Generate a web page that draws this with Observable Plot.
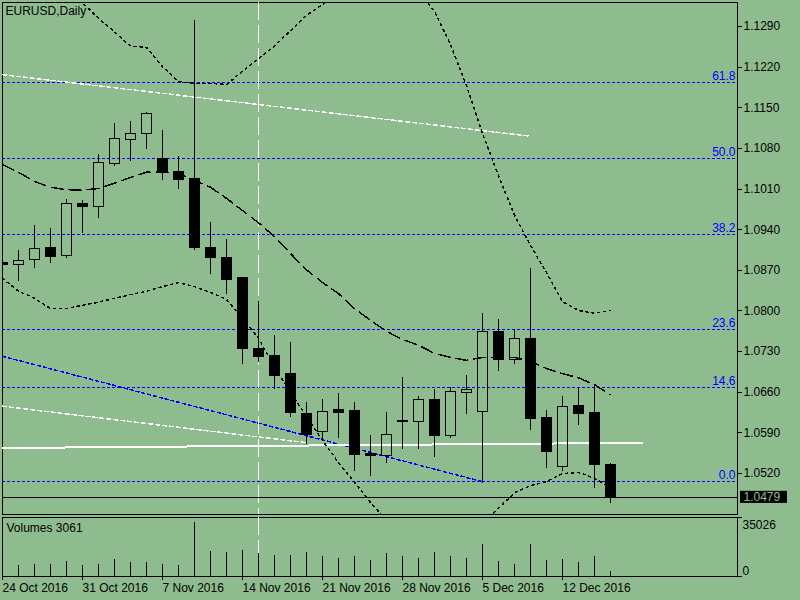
<!DOCTYPE html>
<html><head><meta charset="utf-8">
<script src="https://cdn.jsdelivr.net/npm/d3@7"></script>
<script src="https://cdn.jsdelivr.net/npm/@observablehq/plot@0.6"></script>
<style>
html,body{margin:0;padding:0;background:#8fbc8f;}
#chart svg{display:block;}
</style></head><body><div id="chart"></div>
<script>
const symbolTitle = "EURUSD,Daily";
const volumeTitle = "Volumes 3061";
// daily candles, index 0 = 24 Oct 2016 ... 38 = 15 Dec 2016
const open  = [1.0883,1.0880,1.0888,1.0909,1.0894,1.0985,1.0979,1.1054,1.1095,1.1105,1.1061,1.1040,1.1027,1.0909,1.0892,1.0857,1.0735,1.0723,1.0691,1.0623,1.0592,1.0629,1.0627,1.0553,1.0550,1.0611,1.0609,1.0646,1.0584,1.0659,1.0626,1.0763,1.0716,1.0751,1.0615,1.0531,1.0636,1.0625,1.0534];
const high  = [1.0895,1.0904,1.0947,1.0942,1.0992,1.0990,1.1070,1.1123,1.1126,1.1142,1.1111,1.1066,1.1300,1.0952,1.0923,1.0858,1.0816,1.0758,1.0746,1.0642,1.0648,1.0658,1.0642,1.0586,1.0625,1.0686,1.0652,1.0665,1.0669,1.0689,1.0796,1.0785,1.0768,1.0874,1.0629,1.0652,1.0667,1.0670,1.0538];
const low   = [1.0868,1.0850,1.0874,1.0881,1.0891,1.0934,1.0959,1.1049,1.1058,1.1078,1.1025,1.1009,1.0905,1.0863,1.0829,1.0707,1.0711,1.0664,1.0617,1.0570,1.0578,1.0581,1.0524,1.0515,1.0537,1.0561,1.0561,1.0548,1.0581,1.0622,1.0503,1.0696,1.0708,1.0595,1.0529,1.0524,1.0602,1.0495,1.0468];
const close = [1.0879,1.0886,1.0907,1.0893,1.0985,1.0979,1.1055,1.1097,1.1105,1.1140,1.1039,1.1026,1.0908,1.0891,1.0853,1.0734,1.0720,1.0688,1.0624,1.0586,1.0626,1.0624,1.0552,1.0550,1.0586,1.0608,1.0647,1.0584,1.0661,1.0664,1.0763,1.0715,1.0752,1.0614,1.0557,1.0634,1.0622,1.0534,1.0479];
const volume = [7000,7135,7783,7783,9729,7135,7783,11026,9080,9080,7783,7135,35026,16215,15566,16864,14918,13621,13621,15566,12972,11675,12972,10378,14918,12972,11675,15566,12972,11675,20755,9729,7783,20755,10378,11026,9080,12972,3061];
// indicator lines read at each bar
const midLine   = [1.1052,1.1039,1.1023,1.1013,1.1009,1.1008,1.1011,1.1020,1.1030,1.1039,1.1039,1.1037,1.1025,1.1013,1.0994,1.0973,1.0952,1.0928,1.0899,1.0871,1.0849,1.0830,1.0804,1.0784,1.0765,1.0751,1.0741,1.0727,1.0720,1.0715,1.0720,1.0720,1.0720,1.0713,1.0701,1.0692,1.0685,1.0673,1.0656];
const upperBand = [1.1430,1.1421,1.1404,1.1380,1.1357,1.1331,1.1304,1.1281,1.1256,1.1254,1.1221,1.1195,1.1192,1.1192,1.1190,1.1213,1.1235,1.1256,1.1283,1.1309,1.1328,1.1349,1.1366,1.1378,1.1383,1.1378,1.1352,1.1316,1.1259,1.1188,1.1106,1.1033,1.0965,1.0913,1.0866,1.0816,1.0801,1.0796,1.0801];
const lowerBand = [1.0856,1.0834,1.0822,1.0804,1.0804,1.0810,1.0815,1.0822,1.0828,1.0834,1.0842,1.0849,1.0842,1.0832,1.0820,1.0787,1.0753,1.0703,1.0660,1.0618,1.0577,1.0539,1.0505,1.0470,1.0439,1.0413,1.0396,1.0391,1.0391,1.0408,1.0436,1.0460,1.0487,1.0499,1.0506,1.0520,1.0522,1.0512,1.0496];
// Fibonacci levels
const fibLabels = ["0.0","14.6","23.6","38.2","50.0","61.8"];
const fibPrices = [1.0506,1.0668,1.0768,1.0931,1.1062,1.1193];
// drawn trend lines: [barIndex, price]
const whiteUpperLine = [[0,1.1207],[33,1.1101]];
const whiteLowerLine = [[0,1.0636],[19.06,1.0573]];
const blueTrendLine  = [[0,1.0722],[30,1.0506]];
const whiteSolidLine = [[0,1.0564],[40,1.0573]];
const verticalLineBar = 16;
// axes
const priceTicks = [1.1290,1.1220,1.1150,1.1080,1.1010,1.0940,1.0870,1.0800,1.0730,1.0660,1.0590,1.0520];
const dateTickBars = [0,5,10,15,20,25,30,35];
const dateTickLabels = ["24 Oct 2016","31 Oct 2016","7 Nov 2016","14 Nov 2016","21 Nov 2016","28 Nov 2016","5 Dec 2016","12 Dec 2016"];

const BG = "#8fbc8f";
const crisp = {shapeRendering: "crispEdges"};
const candles = open.map((o, i) => ({
  i, o, h: high[i], l: low[i], c: close[i],
  top: Math.max(o, close[i]), bot: Math.min(o, close[i]), bull: close[i] >= o
}));
const lastClose = close[close.length - 1];
const xDomain = [0, 45.9375];
const style = {fontFamily: "'Liberation Sans', Arial, sans-serif", fontSize: "12px", background: BG, color: "black", overflow: "visible"};

const main = Plot.plot({
  width: 800, height: 516,
  marginTop: 2, marginBottom: 2, marginLeft: 2, marginRight: 63,
  x: {domain: xDomain, axis: null},
  y: {domain: [1.04495, 1.13313]},
  style,
  marks: [
    Plot.frame({stroke: "black", ...crisp}),
    Plot.ruleY(fibPrices, {stroke: "#0000ff", strokeDasharray: "3,2", ...crisp}),
    Plot.text(fibPrices, {y: d => d, text: (d, i) => fibLabels[i], frameAnchor: "right", dx: -2, dy: -3, textAnchor: "end", lineAnchor: "bottom", fill: "#0000ff"}),
    Plot.line(whiteUpperLine, {x: d => d[0], y: d => d[1], stroke: "white", strokeDasharray: "4,3", clip: true, ...crisp}),
    Plot.line(whiteLowerLine, {x: d => d[0], y: d => d[1], stroke: "white", strokeDasharray: "4,3", clip: true, ...crisp}),
    Plot.line(blueTrendLine, {x: d => d[0], y: d => d[1], stroke: "#0000ff", strokeDasharray: "3,3", clip: true, ...crisp}),
    Plot.line(whiteSolidLine, {x: d => d[0], y: d => d[1], stroke: "white", strokeWidth: 2, clip: true, ...crisp}),
    Plot.ruleX([verticalLineBar], {stroke: "white", strokeDasharray: "18,5", ...crisp}),
    Plot.line(upperBand, {x: (d, i) => i, y: d => d, stroke: "black", strokeDasharray: "2,4", clip: true, ...crisp}),
    Plot.line(lowerBand, {x: (d, i) => i, y: d => d, stroke: "black", strokeDasharray: "2,4", clip: true, ...crisp}),
    Plot.line(midLine, {x: (d, i) => i, y: d => d, stroke: "black", strokeDasharray: "12,6", clip: true, ...crisp}),
    Plot.ruleY([lastClose], {stroke: "black", ...crisp}),
    Plot.ruleX(candles, {x: "i", y1: "top", y2: "h", stroke: "black", clip: true, ...crisp}),
    Plot.ruleX(candles, {x: "i", y1: "l", y2: "bot", stroke: "black", clip: true, ...crisp}),
    Plot.rect(candles.filter(d => d.bull), {x1: d => d.i - 5/16, x2: d => d.i + 5/16, y1: "o", y2: "c", fill: "none", stroke: "black", clip: true, ...crisp}),
    Plot.rect(candles.filter(d => !d.bull), {x1: d => d.i - 5/16, x2: d => d.i + 5/16, y1: "o", y2: "c", fill: "black", stroke: "black", clip: true, ...crisp}),
    Plot.axisY({anchor: "right", ticks: priceTicks, tickFormat: d3.format(".4f"), tickSize: 4, tickPadding: 2, label: null, ...crisp}),
    Plot.rect([lastClose], {x1: 46.125, x2: 49.06, y1: d => d - 0.00104, y2: d => d + 0.00104, fill: "black"}),
    Plot.text([lastClose], {y: d => d, text: d => d.toFixed(4), frameAnchor: "right", dx: 6, textAnchor: "start", fill: BG}),
    Plot.text([symbolTitle], {frameAnchor: "top-left", dx: 3, dy: 4, textAnchor: "start", lineAnchor: "top", text: d => d})
  ]
});

const volTop = 38269;
const vol = Plot.plot({
  width: 800, height: 84,
  marginTop: 1, marginBottom: 24, marginLeft: 2, marginRight: 63,
  x: {domain: xDomain},
  y: {domain: [0, volTop]},
  style,
  marks: [
    Plot.frame({stroke: "black", ...crisp}),
    Plot.ruleX([verticalLineBar], {stroke: "white", strokeDasharray: "18,5", ...crisp}),
    Plot.ruleX(volume, {x: (d, i) => i, y1: 0, y2: d => d, stroke: "black", clip: true, ...crisp}),
    Plot.axisX({ticks: dateTickBars, tickFormat: d => dateTickLabels[dateTickBars.indexOf(d)], tickSize: 4, tickPadding: 3, textAnchor: "start", label: null, ...crisp}),
    Plot.axisY({anchor: "right", ticks: [0, volTop], tickFormat: () => "", tickSize: 4, label: null, ...crisp}),
    Plot.text([d3.max(volume)], {y: volTop, text: d => String(d), frameAnchor: "right", dx: 5, dy: 3, textAnchor: "start", lineAnchor: "top"}),
    Plot.text([0], {y: 0, text: d => String(d), frameAnchor: "right", dx: 5, dy: -2, textAnchor: "start", lineAnchor: "bottom"}),
    Plot.text([volumeTitle], {frameAnchor: "top-left", dx: 4, dy: 6, textAnchor: "start", lineAnchor: "top", text: d => d})
  ]
});

const el = document.getElementById("chart");
el.appendChild(main);
el.appendChild(vol);
</script>
</body></html>
